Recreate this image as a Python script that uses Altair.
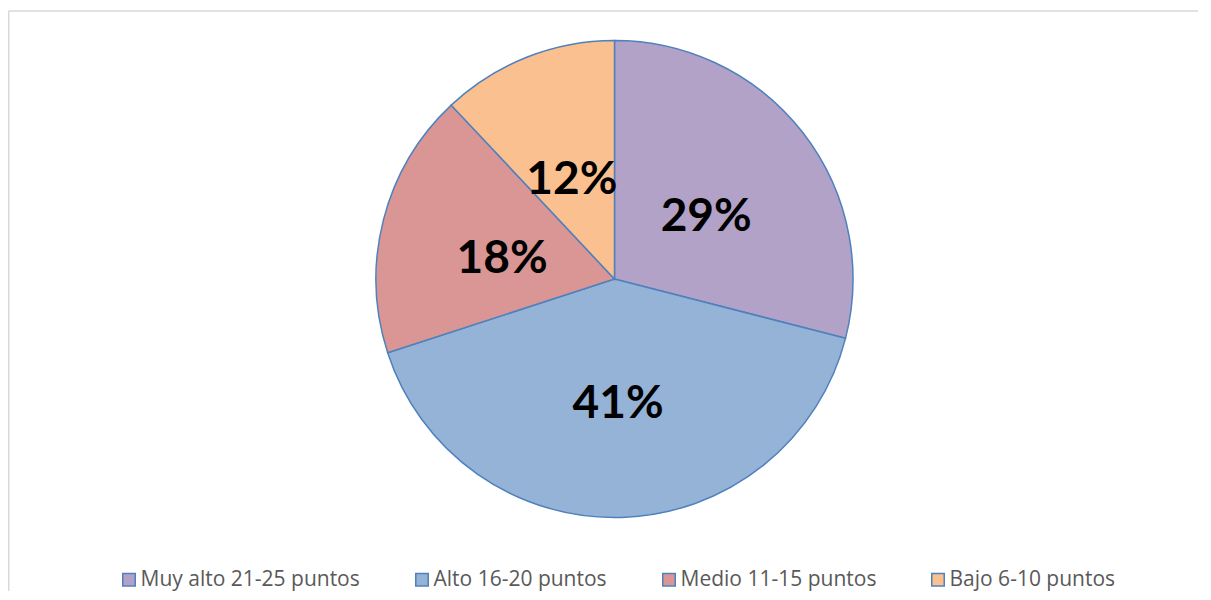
import altair as alt
import pandas as pd

categories = ["Muy alto 21-25 puntos", "Alto 16-20 puntos", "Medio 11-15 puntos", "Bajo 6-10 puntos"]
values = [29, 41, 18, 12]
labels = ["29%", "41%", "18%", "12%"]
colors = ["#B3A2C7", "#95B3D7", "#D99694", "#FAC090"]

df = pd.DataFrame({
    "categoria": categories,
    "valor": values,
    "etiqueta": labels,
    "orden": list(range(len(categories))),
})

W, H = 1185, 580
PAD_L, PAD_T = 5, 3
OX, OY = 8 + PAD_L, 8 + PAD_T
CX, CY = 614.5 - OX, 279 - OY
R = 238.5

base = alt.Chart(df).encode(
    theta=alt.Theta("valor:Q", stack=True),
    order=alt.Order("orden:Q"),
)

pie = base.mark_arc(radius=R, stroke="#4F81BD", strokeWidth=1.5).encode(
    color=alt.Color(
        "categoria:N",
        scale=alt.Scale(domain=categories, range=colors),
        legend=alt.Legend(
            title=None,
            orient="none",
            legendX=118.5 - OX,
            legendY=569 - OY,
            direction="horizontal",
            columns=4,
            columnPadding=51,
            padding=0,
            symbolType="square",
            symbolSize=156,
            symbolStrokeColor="#4F81BD",
            symbolStrokeWidth=1.5,
            symbolOpacity=1,
            labelOffset=1,
            labelFont="Open Sans",
            labelFontSize=21,
            labelColor="#595959",
            labelLimit=400,
        ),
    ),
    x=alt.value(CX),
    y=alt.value(CY),
)

text = base.mark_text(
    radius=116, dy=9, font="Lato", fontSize=46, fontWeight="bold", color="black",
    baseline="middle", align="center"
).encode(
    text="etiqueta:N",
    x=alt.value(CX),
    y=alt.value(CY),
)

frame_df = pd.DataFrame({"k": [0]})
top_line = alt.Chart(frame_df).mark_rule(color="#D9D9D9", strokeWidth=1.5).encode(
    x=alt.value(8.75 - OX), x2=alt.value(W + 10), y=alt.value(11 - OY)
)
left_line = alt.Chart(frame_df).mark_rule(color="#D9D9D9", strokeWidth=1.5).encode(
    x=alt.value(8.75 - OX), y=alt.value(11 - OY), y2=alt.value(H + 10)
)

chart = alt.layer(top_line, left_line, pie, text).properties(
    width=W,
    height=H,
    padding={"left": PAD_L, "top": PAD_T, "right": 0, "bottom": 0},
    autosize=alt.AutoSizeParams(type="none"),
    background="white",
).configure_view(stroke="transparent")

chart.save("out.html", embed_options={"renderer": "svg", "actions": False})
